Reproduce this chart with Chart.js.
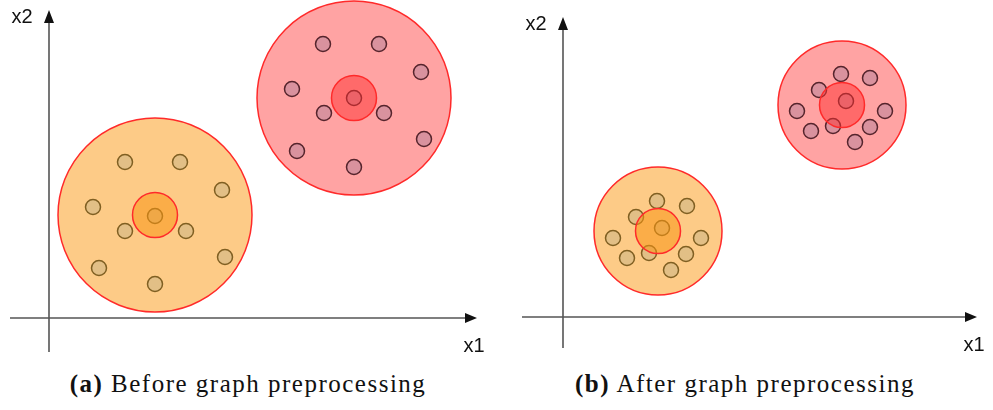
<!DOCTYPE html>
<html>
<head>
<meta charset="utf-8">
<script src="https://cdn.jsdelivr.net/npm/chart.js@4"></script>
<style>
  body { margin: 0; background: #fff; width: 993px; height: 410px; position: relative; overflow: hidden; }
  canvas { position: absolute; top: 0; }
  #chartA { left: 0; }
  #chartB { left: 500px; }
  .caption {
    position: absolute; top: 370px; width: 496px; text-align: center;
    font-family: "Liberation Serif", "DejaVu Serif", serif; font-size: 25px; color: #111;
    letter-spacing: 1.5px; white-space: nowrap;
  }
  .caption b { font-weight: bold; }
</style>
</head>
<body>
<canvas id="chartA" width="500" height="365"></canvas>
<canvas id="chartB" width="493" height="365"></canvas>
<div class="caption" style="left:0px"><b>(a)</b> Before graph preprocessing</div>
<div class="caption" style="left:497px"><b>(b)</b> After graph preprocessing</div>

<script>
// axis labels
const xLabel = "x1";
const yLabel = "x2";

// (a) before preprocessing: cluster centres and member points, [x1, x2]
const beforeCentres = [[106, 103], [305, 220]];
const beforeOrange = [[76, 156], [131, 156], [173, 128], [44, 111], [106, 102],
                      [76, 87], [137, 87], [176, 61], [50, 50], [106, 34]];
const beforeRed = [[274, 274], [330, 274], [372, 246], [243, 229], [305, 220],
                   [275, 205], [335, 205], [375, 179], [248, 167], [305, 151]];

// (b) after preprocessing: same clusters pulled together
const afterCentres = [[95, 86], [279, 212]];
const afterOrange = [[94, 116], [124, 111], [73, 100], [99, 89], [50, 79],
                     [138, 79], [86, 64], [123, 63], [64, 59], [108, 47]];
const afterRed = [[278, 243], [307, 239], [256, 227], [283, 216], [234, 206],
                  [322, 206], [270, 191], [307, 190], [248, 186], [292, 175]];

const toXY = arr => arr.map(p => ({ x: p[0], y: p[1] }));

const ORANGE = { big: "#fdcb87", inner: "rgba(250,150,20,0.55)", dot: "#e2bf86", dotEdge: "#7f5f22" };
const RED = { big: "#ffa3a3", inner: "rgba(255,50,50,0.5)", dot: "#d9929e", dotEdge: "#55242c" };
const EDGE = "#ff2a2a";

// draws the two crossing axes through value 0 with arrow heads and labels
const crossAxes = {
  id: "crossAxes",
  beforeDatasetsDraw(chart) {
    const { ctx, chartArea: a, scales: { x, y } } = chart;
    const x0 = x.getPixelForValue(0), y0 = y.getPixelForValue(0);
    ctx.save();
    ctx.strokeStyle = "#555";
    ctx.lineWidth = 1.6;
    ctx.beginPath();
    ctx.moveTo(a.left, y0); ctx.lineTo(a.right - 8, y0);
    ctx.moveTo(x0, a.bottom); ctx.lineTo(x0, a.top + 8);
    ctx.stroke();

    ctx.fillStyle = "#111";
    ctx.beginPath();
    ctx.moveTo(a.right, y0); ctx.lineTo(a.right - 12, y0 - 5); ctx.lineTo(a.right - 12, y0 + 5); ctx.closePath();
    ctx.moveTo(x0, a.top); ctx.lineTo(x0 - 5, a.top + 13); ctx.lineTo(x0 + 5, a.top + 13); ctx.closePath();
    ctx.fill();

    ctx.font = '20px "Liberation Sans", Arial, sans-serif';
    ctx.textAlign = "center";
    ctx.textBaseline = "middle";
    ctx.fillText(yLabel, x0 - 27, a.top + 7);
    ctx.fillText(xLabel, a.right - 3, y0 + 28);
    ctx.restore();
  }
};

function clusterSets(centres, orangePts, redPts, bigR) {
  const big = (c, col) => ({
    data: toXY([c]), pointRadius: bigR, backgroundColor: col.big,
    borderColor: EDGE, borderWidth: 1.5, order: 3, clip: false
  });
  const dots = (pts, col) => ({
    data: toXY(pts), pointRadius: 7.5, backgroundColor: col.dot,
    borderColor: col.dotEdge, borderWidth: 1.5, order: 2, clip: false
  });
  const inner = (c, col) => ({
    data: toXY([c]), pointRadius: 22.5, backgroundColor: col.inner,
    borderColor: EDGE, borderWidth: 1.5, order: 1, clip: false
  });
  return [
    big(centres[0], ORANGE), big(centres[1], RED),
    dots(orangePts, ORANGE), dots(redPts, RED),
    inner(centres[0], ORANGE), inner(centres[1], RED)
  ];
}

function makeChart(id, datasets, xr, yr, padding) {
  return new Chart(document.getElementById(id), {
    type: "scatter",
    data: { datasets },
    options: {
      responsive: false,
      animation: false,
      devicePixelRatio: 1,
      events: [],
      layout: { padding, autoPadding: false },
      scales: {
        x: { type: "linear", min: xr[0], max: xr[1], display: false },
        y: { type: "linear", min: yr[0], max: yr[1], display: false }
      },
      plugins: { legend: { display: false }, tooltip: { enabled: false } }
    },
    plugins: [crossAxes]
  });
}

makeChart("chartA", clusterSets(beforeCentres, beforeOrange, beforeRed, 97),
  [-39, 428], [-34, 308], { left: 10, top: 10, right: 23, bottom: 13 });

makeChart("chartB", clusterSets(afterCentres, afterOrange, afterRed, 64),
  [-41, 414], [-31, 300], { left: 22, top: 17, right: 16, bottom: 17 });
</script>
</body>
</html>
